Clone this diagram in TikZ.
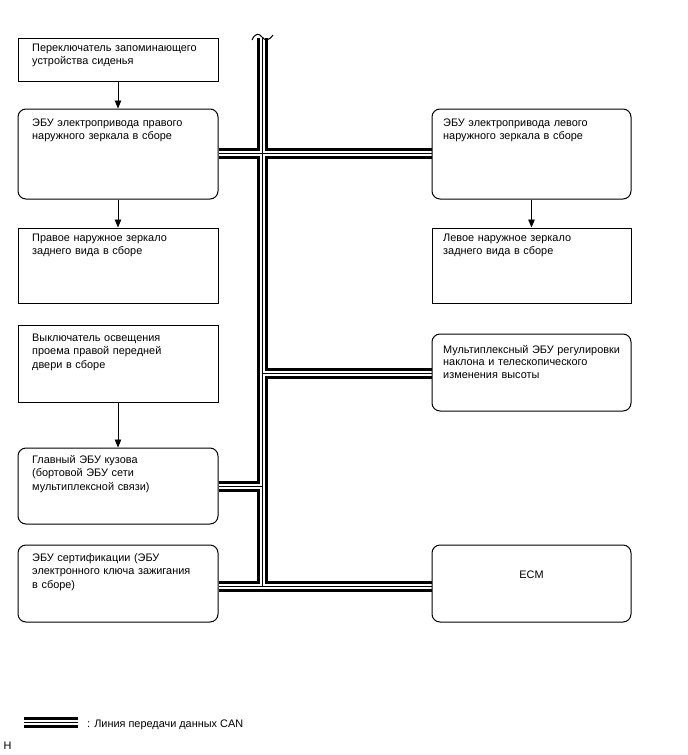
\documentclass[tikz,border=0pt]{standalone}
\usepackage{fontspec}
\setmainfont{Liberation Sans}
\usetikzlibrary{arrows.meta}
\pgfdeclarelayer{bg}
\pgfsetlayers{bg,main}
\newcommand\canpaths[1]{%
  \draw[#1] (top) -- (bot);
  \draw[#1] (b2.east |- j1) -- (b7.west |- j1);
  \draw[#1] (j2) -- (b9.west |- j2);
  \draw[#1] (b5.east |- j3) -- (j3);
  \draw[#1] (b6.east |- bot) -- (b10.west |- bot);
  \draw[#1] (lg1) -- (lg2);
}
\begin{document}
\begin{tikzpicture}[x=1pt,y=-1pt,
  box/.style={draw=black,line width=1pt,inner sep=0pt},
  rbox/.style={box,rounded corners=8pt},
  lbl/.style={anchor=base west,inner sep=0pt,align=left,text width=196pt,font=\fontsize{10.9pt}{13.5pt}\selectfont},
  arr/.style={line width=0.9pt,-{Triangle[length=8pt,width=6.5pt]}},
  canouter/.style={line width=11pt,black},
  canwhite/.style={line width=5pt,white},
  cancore/.style={line width=0.9pt,black},
]
\path[use as bounding box] (0,0) rectangle (688,755);

% boxes
\node[box,minimum width=200pt,minimum height=43pt] (b1) at (118,59.5) {};
\node[rbox,minimum width=200pt,minimum height=90pt] (b2) at (118,154) {};
\node[box,minimum width=200pt,minimum height=75pt] (b3) at (118,265.5) {};
\node[box,minimum width=200pt,minimum height=77pt] (b4) at (118,363.5) {};
\node[rbox,minimum width=200pt,minimum height=76pt] (b5) at (118,486) {};
\node[rbox,minimum width=200pt,minimum height=77pt] (b6) at (118,583.5) {};
\node[rbox,minimum width=199pt,minimum height=90pt] (b7) at (531.5,154) {};
\node[box,minimum width=199pt,minimum height=75pt] (b8) at (531.5,265.5) {};
\node[rbox,minimum width=199pt,minimum height=77pt] (b9) at (531.5,372.5) {};
\node[rbox,minimum width=199pt,minimum height=77pt] (b10) at (531.5,583.5) {};

% texts
\node[lbl] (t1) at (32,51) {Переключатель запоминающего\\устройства сиденья};
\node[lbl] (t2) at (32,126) {ЭБУ электропривода правого\\наружного зеркала в сборе};
\node[lbl] (t3) at (32,241) {Правое наружное зеркало\\заднего вида в сборе};
\node[lbl] (t4) at (32,341) {Выключатель освещения\\проема правой передней\\двери в сборе};
\node[lbl] (t5) at (32,463) {Главный ЭБУ кузова\\(бортовой ЭБУ сети\\мультиплексной связи)};
\node[lbl] (t6) at (32,561) {ЭБУ сертификации (ЭБУ\\электронного ключа зажигания\\в сборе)};
\node[lbl] (t7) at (443,126) {ЭБУ электропривода левого\\наружного зеркала в сборе};
\node[lbl] (t8) at (443,241) {Левое наружное зеркало\\заднего вида в сборе};
\node[lbl,font=\fontsize{10.9pt}{12.6pt}\selectfont] (t9) at (443,353) {Мультиплексный ЭБУ регулировки\\наклона и телескопического\\изменения высоты};
\node[inner sep=0pt,font=\fontsize{10.9pt}{13.5pt}\selectfont] (t10) at (531.5,575) {ECM};

% arrows
\draw[arr] (b1.south) -- (b2.north);
\draw[arr] (b2.south) -- (b3.north);
\draw[arr] (b4.south) -- (b5.north);
\draw[arr] (b7.south) -- (b8.north);

% CAN bus
\coordinate (top) at (262,38);
\coordinate (j1) at (262,153);
\coordinate (j2) at (262,373);
\coordinate (j3) at (262,486);
\coordinate (bot) at (262,586);
\coordinate (lg1) at (24,722.5);
\coordinate (lg2) at (78,722.5);
\begin{pgfonlayer}{bg}
\canpaths{canouter}
\canpaths{canwhite}
\canpaths{cancore}
\end{pgfonlayer}
% break mark
\draw[line width=1pt] (252,40) .. controls (255,33) and (259,33) .. (262,37) .. controls (265,41) and (269,41) .. (273,35);

% legend
\node[anchor=base west,inner sep=0pt,font=\fontsize{10.9pt}{13pt}\selectfont] (lgt) at (87,727) {: Линия передачи данных CAN};
\node[anchor=base west,inner sep=0pt,font=\fontsize{10.9pt}{12pt}\selectfont] (hmark) at (3.5,749.5) {H};
\end{tikzpicture}
\end{document}
